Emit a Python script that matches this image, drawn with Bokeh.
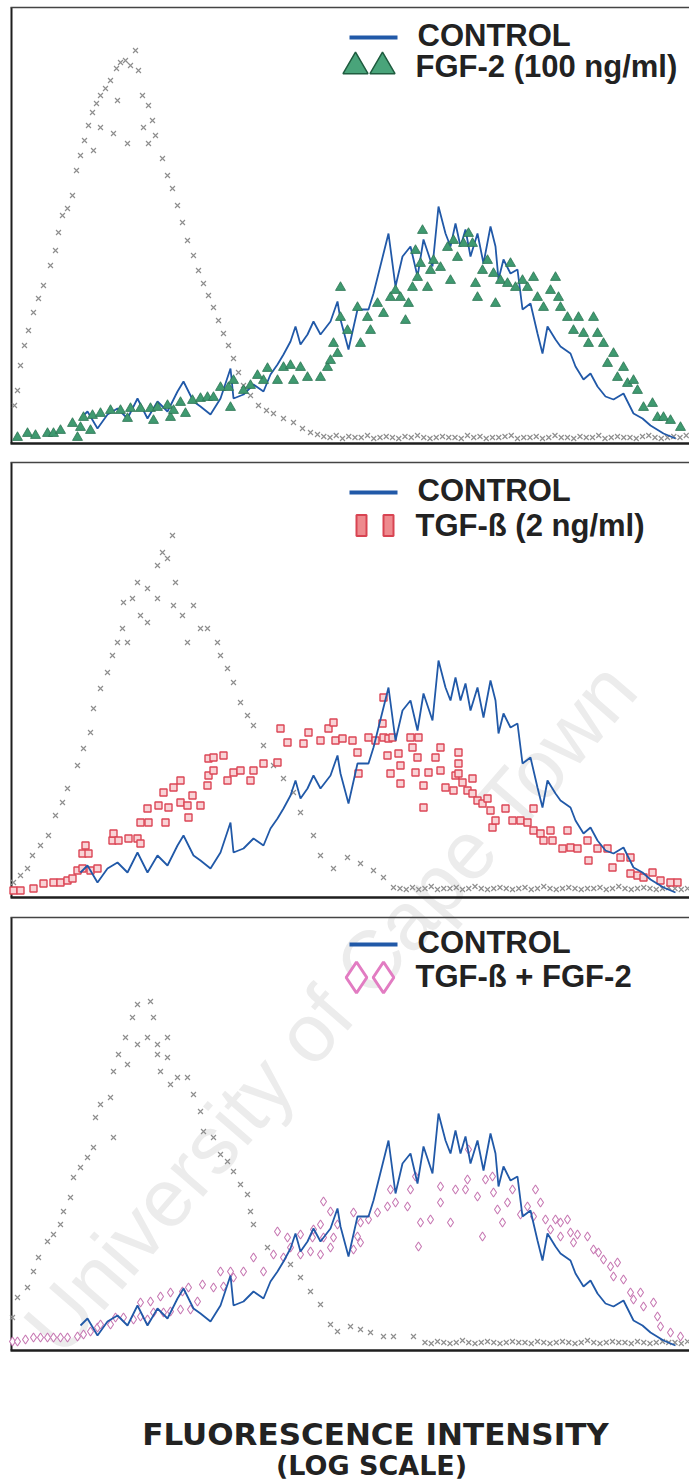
import math
from bokeh.plotting import figure
from bokeh.models import Range1d
from bokeh.core.properties import value
from bokeh.embed import file_html
from bokeh.resources import INLINE

# ---------------------------------------------------------------
# Flow-cytometry histograms: channel (log fluorescence) vs events
# ---------------------------------------------------------------

# Isotype (unstained) control, one per panel -- grey crosses
iso1_ch = [0.8, 2, 3.2, 4.8, 6.4, 8.4, 10.4, 12.4, 15.2, 17.2, 18.4, 20, 22, 24, 25.6,
           27.2, 28.8, 30.4, 32, 33.6, 35.2, 37.2, 39.2, 41.6, 43.2, 45.2, 47.2, 49.2,
           50.4, 52, 54.4, 56, 57.2, 60, 62, 64, 66, 68, 70, 72.4, 74.4, 76.4, 78.4,
           80.4, 82.4, 84.4, 86.4, 88.4, 90.4, 92.4, 95.2, 98.4, 101.6, 104.4, 108.4,
           112.4, 116, 119.2,
           42, 40.4, 46, 35.2, 32.4, 52.4, 54.4]
iso1_cnt = [7.6, 10.6, 15.6, 19.6, 22.6, 26.2, 29, 31.6, 35.6, 38.6, 42.2, 45.6, 47, 49.6,
            54.6, 57.6, 60.6, 63.6, 66.2, 68, 69.6, 71, 72.6, 75, 76.2, 76.6, 75.6, 78.6,
            74.6, 69.6, 67.6, 64.6, 61.6, 57, 53.6, 51, 47.6, 44.2, 40.6, 37.6, 34.6, 32,
            29.6, 27.2, 24.6, 22, 19.6, 17, 14.2, 11.6, 9.6, 7.6, 6.6, 6, 5, 4.2, 3, 2.2,
            68.6, 62, 60, 63.2, 58.6, 63.2, 60]
iso1_tail_ch = [122 + 2.5 * i for i in range(60)]
iso1_tail_cnt = [1.8, 1.4, 1.2, 1.6, 1.0, 1.4, 1.2, 1.2, 1.6, 1.0, 1.2, 1.4, 1.2, 1.0, 1.4,
                 1.2, 1.6, 1.2, 1.0, 1.2, 1.4, 1.2, 1.2, 1.0, 1.6, 1.2, 1.4, 1.0, 1.2, 1.2,
                 1.4, 1.6, 1.0, 1.2, 1.2, 1.4, 1.0, 1.2, 1.6, 1.2, 1.2, 1.0, 1.4, 1.2, 1.2,
                 1.6, 1.0, 1.2, 1.4, 1.2, 1.2, 1.0, 1.4, 1.6, 1.2, 1.0, 1.2, 1.4, 1.2, 1.6]

iso2_ch = [0.4, 3.2, 6, 8, 11.2, 14.4, 17.2, 20, 22, 26, 28.4, 31.2, 32.4, 35.2, 38, 40,
           42, 44, 44.4, 48, 50, 54, 58, 60, 62, 64, 65.2, 68, 72.4, 75.2, 78, 82, 83.2,
           86, 88.4, 91.2, 94, 96.4, 100.4, 104.4, 108.4, 112.4, 115.2, 120.4, 123.2,
           128.4, 134, 139.2, 144.4, 148.4, 152.4,
           54, 58, 64.4, 46, 51.2, 70]
iso2_cnt = [3, 4.4, 5.8, 8.4, 10.4, 12.4, 16.4, 19, 21.8, 26.4, 29.8, 33, 37.8, 41.8, 45,
            48.4, 51, 53.8, 59, 59.8, 63, 61.8, 66.4, 69, 67.8, 72.4, 63, 56.4, 58.4, 53.8,
            53.8, 51, 48.4, 45.8, 43, 39, 36.4, 34.4, 30.4, 26.4, 23.8, 21, 17, 12.4, 8.4,
            5.8, 8, 6.8, 5.4, 4, 2,
            55, 59.8, 58.4, 51, 56.4, 51]
iso2_tail_ch = [155 + 2.5 * i for i in range(47)]
iso2_tail_cnt = [1.8, 1.6, 2.0, 1.6, 1.8, 2.2, 1.6, 1.8, 1.8, 2.0, 1.6, 1.8, 2.2, 1.8, 1.6,
                 1.8, 2.0, 1.8, 1.6, 1.8, 2.0, 1.6, 1.8, 2.2, 1.8, 1.6, 1.8, 2.0, 1.8, 1.6,
                 1.8, 1.8, 2.0, 1.6, 1.8, 2.2, 1.8, 1.6, 1.8, 2.0, 1.8, 1.6, 1.8, 2.0, 1.8,
                 1.6, 1.8]

iso3_ch = [0, 2, 6, 8.4, 10.4, 14, 16.4, 19.2, 20.4, 23.2, 24.4, 27.2, 30, 32.4, 33.2,
           35.2, 39.2, 40.4, 40.4, 42.4, 45.2, 48, 50, 55.2, 56.4, 58, 59.2, 62, 63.2, 66,
           70, 72.4, 75.2, 76.4, 80.4, 83.2, 86, 88.4, 91.2, 94, 95.2, 96.4, 102, 111.2,
           115.2, 119.2, 123.2, 127.2, 130, 135.2, 139.2, 143.2, 148.4, 152.4, 160.4,
           54, 58, 50, 46, 62]
iso3_cnt = [6.6, 10.6, 12.6, 15.8, 18.6, 21.8, 23.2, 25.2, 27.8, 30.6, 34.6, 36.6, 38.6,
            40.6, 46.6, 49.2, 50.6, 42.6, 55.8, 59.2, 62.6, 66.6, 69.2, 69.8, 66.6, 61.2,
            55.8, 58.6, 53.2, 54.6, 54.6, 51.2, 47.8, 43.8, 42.6, 39.2, 37.8, 35.8, 33.2,
            31.2, 27.8, 25.2, 20.6, 17.2, 14.6, 11.8, 9.2, 5.2, 3.8, 4.8, 4.2, 3.6, 2.8,
            2.8, 2.8,
            62.6, 59.2, 61.2, 57.2, 62.6]
iso3_tail_ch = [165 + 2.5 * i for i in range(43)]
iso3_tail_cnt = [1.6, 1.4, 1.8, 1.6, 1.4, 1.6, 2.0, 1.6, 1.4, 1.6, 1.8, 1.6, 1.4, 1.6, 1.8,
                 1.6, 1.6, 1.4, 1.8, 1.6, 1.4, 1.6, 1.8, 1.6, 1.4, 1.6, 2.0, 1.6, 1.4, 1.6,
                 1.8, 1.6, 1.6, 1.4, 1.8, 1.6, 1.4, 1.6, 1.8, 1.6, 1.6, 1.4, 1.8]

# Untreated control (same acquisition shown in all three panels) -- blue line
ctrl_ch = [27.2, 30, 34, 38, 42, 46, 50, 54, 58, 62, 66, 68.4, 72.4, 75.2, 79.2, 83.2,
           87.2, 88.4, 92.4, 96.4, 100.4, 103.2, 106, 108.4, 111.2, 113.2, 115.2, 118,
           120.4, 123.2, 127.2, 130, 131.2, 134.4, 138, 142.4, 144.4, 148.4, 150.4, 153.2,
           156, 159.2, 162, 164.4, 168, 170.4, 173.2, 175.2, 177.2, 179.2, 181.2, 183.2,
           186, 188.4, 191.2, 193.2, 194.4, 196.4, 199.2, 202, 204, 207.2, 210, 212, 214,
           217.2, 219.2, 223.2, 225.2, 228.4, 231.2, 234, 237.2, 240.4, 244.4, 248.4, 252,
           255.2, 260.4, 265.2]
ctrl_cnt = [5, 6.4, 3, 5.8, 7, 5, 9, 5, 8.4, 6.4, 10.4, 12.4, 8.4, 7.4, 5.8, 9, 15, 9, 9.8,
            11.8, 10.4, 13.8, 15.8, 17.8, 20.4, 23.4, 19.8, 21.8, 24.4, 21.8, 24.4, 28.4,
            24.8, 18.8, 26.8, 26.8, 30, 38, 42, 31.4, 37.4, 39.4, 33.4, 40.8, 35.4, 47.4, 42,
            39.4, 44, 39.4, 42.8, 37.4, 42, 36, 43.4, 39.4, 32.8, 36.8, 34, 34.8, 26.8, 28,
            22, 18, 23.4, 20.8, 19.4, 18, 15.4, 12.8, 14, 11.4, 9.4, 8.8, 10, 6, 5, 3.6, 2, 1]

# FGF-2 (100 ng/ml) -- green triangles
fgf_ch = [2, 6, 9.2, 14, 16.4, 19.2, 24, 26, 28.4, 27.2, 31.2, 32, 35.2, 39.2, 43.2, 46,
          47.2, 51.2, 55.2, 56.4, 58, 62, 63.2, 64.4, 67.2, 69.2, 72, 75.2, 78, 80.4, 83.2,
          86.4, 87.2, 88.4, 100.4, 102, 106, 108.4, 111.2, 112.4, 115.2, 118, 123.2, 126,
          127.2, 128.4, 130, 131.2, 131.2, 134, 138, 139.2, 142, 143.2, 146, 148.4, 151.2,
          153.2, 155.2, 157.2, 158.4, 160, 162, 163.2, 161.2, 164, 166, 167.2, 168.4, 171.2,
          174, 175.2, 176.4, 178, 180.4, 182.4, 184, 185.2, 186, 188, 190, 192.4, 193.2,
          195.2, 198, 199.2, 201.2, 204, 206, 208.4, 210, 212.4, 215.2, 217.2, 218.4, 219.2,
          222, 224.4, 226.4, 228.4, 230.4, 232.4, 234, 236.4, 238, 240.4, 242, 244.4, 246,
          248.4, 250, 252.4, 256, 258, 260.4, 263.2, 267.2,
          92.4, 95.2, 98]
fgf_cnt = [1.2, 2, 1.6, 2, 2, 2.6, 4, 1.2, 5.2, 3.2, 2.6, 5.6, 6, 6.6, 6.6, 5, 7, 7, 7, 4.6,
           7.2, 7.6, 5.2, 6.6, 8.2, 6, 8.6, 9, 9.2, 9.2, 11.2, 11.2, 7.2, 12.6, 12.6, 15,
           12.6, 15.2, 15.6, 12.6, 15.2, 13.2, 13.2, 15.2, 16.6, 20, 18, 25.2, 31.2, 22.6,
           27.2, 20, 25.2, 22.6, 28, 26, 29.2, 30.6, 29.2, 24.6, 28, 31.2, 33.2, 36, 38.6,
           42.6, 31.2, 34.6, 36.6, 35.2, 39.2, 32.6, 40.6, 37.2, 40, 42, 40, 32, 29.2, 34.6,
           36.6, 34, 28, 32.6, 32, 36, 31.2, 32.6, 31.2, 33.2, 29.2, 27.2, 30.6, 33.2, 29.2,
           27.2, 25.2, 22.6, 25.2, 22, 20, 25.2, 22, 20, 16, 18, 13.2, 15.2, 12, 12.6, 10.6,
           7.2, 8, 5.2, 5.2, 4.6, 3.2,
           10.6, 11.6, 13.6]

# TGF-beta (2 ng/ml) -- red squares
tgf_ch = [0.4, 3.2, 8.4, 12.4, 16.4, 19.2, 22, 24, 26, 28, 28, 29.2, 30.4, 31.2, 34, 40,
          40.4, 42.4, 46.4, 50, 51.2, 51.2, 54, 54.4, 58.4, 60.4, 61.2, 62.4, 64.4, 67.2,
          67.2, 70, 70.4, 72, 75.2, 78, 78.4, 78.4, 80.4, 80.4, 84.4, 86, 88.4, 91.2, 95.2,
          96.4, 100.4, 106, 107.2, 110, 116.4, 118.4, 123.2, 126.4, 128.4, 129.2, 132, 136,
          138, 138.4, 142.4, 145.2, 148, 148.4, 148.4, 150, 150.4, 151.2, 152, 154.4, 155.2,
          155.2, 159.2, 160, 161.2, 162, 162.4, 164.4, 164.4, 166.4, 169.2, 171.2, 171.2,
          173.2, 176.4, 177.2, 178.4, 178.4, 178.4, 180, 182, 184, 184, 186, 188, 190, 191.2,
          192, 193.2, 197.2, 200, 203.2, 206, 208.4, 208.4, 211.2, 212.4, 215.2, 216, 220,
          222, 223.2, 226, 230, 230.4, 234, 238, 240, 243.2, 247.2, 247.2, 250, 252.4, 256,
          259.2, 263.2, 266]
tgf_cnt = [1.4, 1.4, 1.8, 2.8, 3, 3, 3.4, 3.8, 5.4, 5.8, 8.8, 10.4, 8.8, 5.4, 5.8, 11.4,
           12.8, 11.4, 11.8, 11.8, 15, 10.8, 17.8, 15, 18.4, 21, 15, 18, 22, 23.4, 19, 18.4,
           16, 20.4, 18.4, 22.4, 27.8, 24.4, 28, 25.4, 28.4, 23.4, 25, 25.4, 23.4, 25.4, 26.8,
           27, 33.8, 31, 30.8, 33, 31.4, 33.8, 35, 31.4, 31.8, 31.4, 29, 24.8, 32, 31.4, 34.8,
           40, 32, 28.4, 31.8, 24.8, 32, 28.8, 26.4, 22.8, 32, 30, 25, 28, 32, 22.4, 18, 25,
           28, 30, 25.4, 22, 21.4, 24.4, 29, 26.8, 24.8, 23, 21.4, 23.8, 20.8, 19.4, 18.8,
           19.8, 17.4, 14, 15.4, 17.8, 15.4, 15.4, 15, 17.8, 13.4, 12.8, 11.4, 13.4, 11.4,
           9.8, 13.4, 10, 9.8, 11.4, 7.4, 9.8, 9.8, 6, 8, 8, 4.8, 4.4, 4, 5, 3.4, 3, 3]

# TGF-beta + FGF-2 -- pink diamonds
combo_ch = [0, 2, 5.2, 8.4, 11.2, 14, 16.4, 19.2, 22, 26, 28.4, 31.2, 34, 35.2, 39.2, 41.2,
            44.4, 48.4, 51.2, 51.2, 54, 55.2, 56.4, 59.2, 60.4, 63.2, 63.2, 67.2, 68, 70.4,
            71.2, 74, 76, 80.4, 83.2, 84.4, 87.2, 88.4, 92.4, 96.4, 100.4, 104.4, 106,
            108.4, 110, 111.2, 115.2, 115.2, 119.2, 120, 120.4, 123.2, 123.2, 124.4, 124.4,
            127.2, 127.2, 128.4, 130, 136.4, 136.4, 138, 139.2, 139.2, 142.4, 146, 150,
            151.2, 153.2, 158, 159.2, 161.2, 162.4, 163.2, 167.2, 171.2, 171.2, 175.2,
            177.2, 181.2, 182, 182.4, 186, 188, 189.2, 192, 192.4, 194, 196, 198, 200,
            203.2, 206, 208.4, 209.2, 211.2, 213.2, 215.2, 217.2, 219.2, 219.2, 222, 223.2,
            224.4, 226, 230, 232.4, 234.4, 236.4, 239.2, 240.4, 242, 244.4, 247.2, 248.4,
            251.2, 252.4, 256.4, 258, 259.2, 263.2, 267.2]
combo_cnt = [1.8, 1.8, 2.2, 2.6, 2.6, 2.6, 2.6, 2.6, 2.6, 2.8, 3.2, 3.8, 4.6, 5.2, 5.2, 6.6,
             6.6, 6.2, 6.8, 9.6, 6.2, 9.8, 7.6, 10.8, 7.6, 7.8, 11.6, 8.2, 11.8, 12.6, 8.2,
             9.8, 13.2, 12.6, 15.8, 12.8, 15.8, 14.6, 15.8, 18.6, 15.8, 19.2, 23.8, 18.6,
             22.6, 20.6, 19.2, 23.2, 19.8, 22.6, 24.2, 19.2, 25.2, 29.8, 22.6, 20.6, 27.8,
             22.6, 25.2, 27.6, 20.2, 22.8, 25.6, 21.6, 26.2, 27.6, 28.8, 32.2, 29.6, 28.8,
             32.2, 34.8, 20.8, 25.6, 26.2, 32.8, 29.6, 25.6, 32.2, 32.2, 34.2, 40.2, 30.8,
             22.8, 34.2, 34.8, 31.6, 28.2, 25.6, 29.6, 32.2, 27.2, 28.8, 26.8, 32.2, 29.6,
             26.2, 24.2, 26.2, 25.6, 22.8, 26.2, 23.6, 21.6, 23.2, 22.8, 20.2, 19.6, 18.2,
             16.8, 14.8, 17.6, 14.2, 11.6, 10.2, 11.6, 8.8, 9.6, 6.8, 4.8, 3.6, 2.8]

legend_control = "CONTROL"
legend_treat = ["FGF-2 (100 ng/ml)", "TGF-ß (2 ng/ml)", "TGF-ß + FGF-2"]
x_title = "FLUORESCENCE INTENSITY"
x_subtitle = "(LOG SCALE)"
watermark = "University of Cape Town"

# ---------------------------------------------------------------
# Page geometry
# ---------------------------------------------------------------
W, H = 689, 1482
PX_PER_CH = 2.5        # horizontal pixels per channel
PX_PER_COUNT = 5.0     # vertical pixels per event count
X0 = 12                # page x of channel 0
PANELS = [(7, 443), (462, 897), (917, 1350)]   # (top, bottom) of each histogram
LEGEND_ROWS = [(35, 66), (490, 525), (942, 976)]  # centre rows of the legend lines

INK = "#1e1e1e"
GREY = "#8e8e8e"
BLUE = "#2159a8"


def px(xp):
    """page pixel column -> channel coordinate"""
    return (xp - X0) / PX_PER_CH


def py(yp):
    """page pixel row -> page coordinate of the default y range"""
    return H - yp


p = figure(width=W, height=H, x_range=Range1d(px(0), px(W)), y_range=Range1d(0, H),
           x_axis_type=None, y_axis_type=None, toolbar_location=None,
           output_backend="svg", min_border=0)
p.outline_line_color = None
p.background_fill_color = "white"
p.border_fill_color = "white"

for i, (top, bottom) in enumerate(PANELS):
    p.extra_y_ranges[f"panel{i}"] = Range1d((bottom - H) / PX_PER_COUNT, bottom / PX_PER_COUNT)

# faint repository watermark across the lower panels
p.text(x=[px(40)], y=[py(1340)], text=[watermark], angle=math.radians(49),
       text_font=value("Liberation Sans"), text_font_size=value("82px"),
       text_color="#ececec", text_align="left", text_baseline="alphabetic")


def frame(top, bottom):
    p.segment(x0=[px(11)], y0=[py(top)], x1=[px(11)], y1=[py(bottom)],
              line_color=INK, line_width=2)
    p.segment(x0=[px(10)], y0=[py(bottom)], x1=[px(W)], y1=[py(bottom)],
              line_color=INK, line_width=2.5)
    p.segment(x0=[px(10)], y0=[py(top)], x1=[px(W)], y1=[py(top)],
              line_color="#444444", line_width=1.5)


def isotype(rng, ch, cnt, tail_ch, tail_cnt):
    p.scatter(ch + tail_ch, cnt + tail_cnt, marker="x", size=7, line_color=GREY,
              line_width=1.2, y_range_name=rng)


def control(rng):
    p.line(ctrl_ch, ctrl_cnt, line_color=BLUE, line_width=1.8, y_range_name=rng)


def legend(rows, label):
    r1, r2 = rows
    p.segment(x0=[px(349)], y0=[py(r1 + 2)], x1=[px(397)], y1=[py(r1 + 2)],
              line_color=BLUE, line_width=4)
    p.text(x=[px(417), px(415)], y=[py(r1), py(r2)],
           text=[legend_control, label], text_font=value("Liberation Sans"),
           text_font_style="bold", text_font_size=value("31px"), text_color="#222222",
           text_align="left", text_baseline="alphabetic")


# --- panel 1: FGF-2 ---
t, b = PANELS[0]
frame(t, b)
isotype("panel0", iso1_ch, iso1_cnt, iso1_tail_ch, iso1_tail_cnt)
control("panel0")
p.scatter(fgf_ch, fgf_cnt, marker="triangle", size=10, fill_color="#3f9a70",
          line_color="#2b7352", line_width=0.8, y_range_name="panel0")
legend(LEGEND_ROWS[0], legend_treat[0])
p.scatter([px(355), px(382)], [py(LEGEND_ROWS[0][1])] * 2, marker="triangle", size=25,
          fill_color="#49a47a", line_color="#1f5c3f", line_width=1.5)

# --- panel 2: TGF-beta ---
t, b = PANELS[1]
frame(t, b)
isotype("panel1", iso2_ch, iso2_cnt, iso2_tail_ch, iso2_tail_cnt)
p.scatter(tgf_ch, tgf_cnt, marker="square", size=7, fill_color="#f9d3d6",
          line_color="#dc4656", line_width=1.4, y_range_name="panel1")
control("panel1")
legend(LEGEND_ROWS[1], legend_treat[1])
p.rect([px(361), px(388)], [py(LEGEND_ROWS[1][1])] * 2, width=10, height=21,
       width_units="screen", height_units="screen",
       fill_color="#ee8a8e", line_color="#d84452", line_width=2)

# --- panel 3: TGF-beta + FGF-2 ---
t, b = PANELS[2]
frame(t, b)
isotype("panel2", iso3_ch, iso3_cnt, iso3_tail_ch, iso3_tail_cnt)
p.scatter(combo_ch, combo_cnt, marker="diamond", size=9, fill_color="white",
          line_color="#c87ab4", line_width=1.1, y_range_name="panel2")
control("panel2")
legend(LEGEND_ROWS[2], legend_treat[2])
p.scatter([px(356), px(383)], [py(LEGEND_ROWS[2][1] + 1)] * 2, marker="diamond", size=31,
          fill_color="white", line_color="#e27cc2", line_width=3)

# --- shared x-axis title ---
p.text(x=[px(375)], y=[py(1433)], text=[x_title], text_font=value("DejaVu Sans"),
       text_font_style="bold", text_font_size=value("31px"), text_color="#222222",
       text_align="center", text_baseline="alphabetic")
p.text(x=[px(371)], y=[py(1465)], text=[x_subtitle], text_font=value("DejaVu Sans"),
       text_font_style="bold", text_font_size=value("27px"), text_color="#222222",
       text_align="center", text_baseline="alphabetic")

open("out.html", "w").write(file_html(p, INLINE))
